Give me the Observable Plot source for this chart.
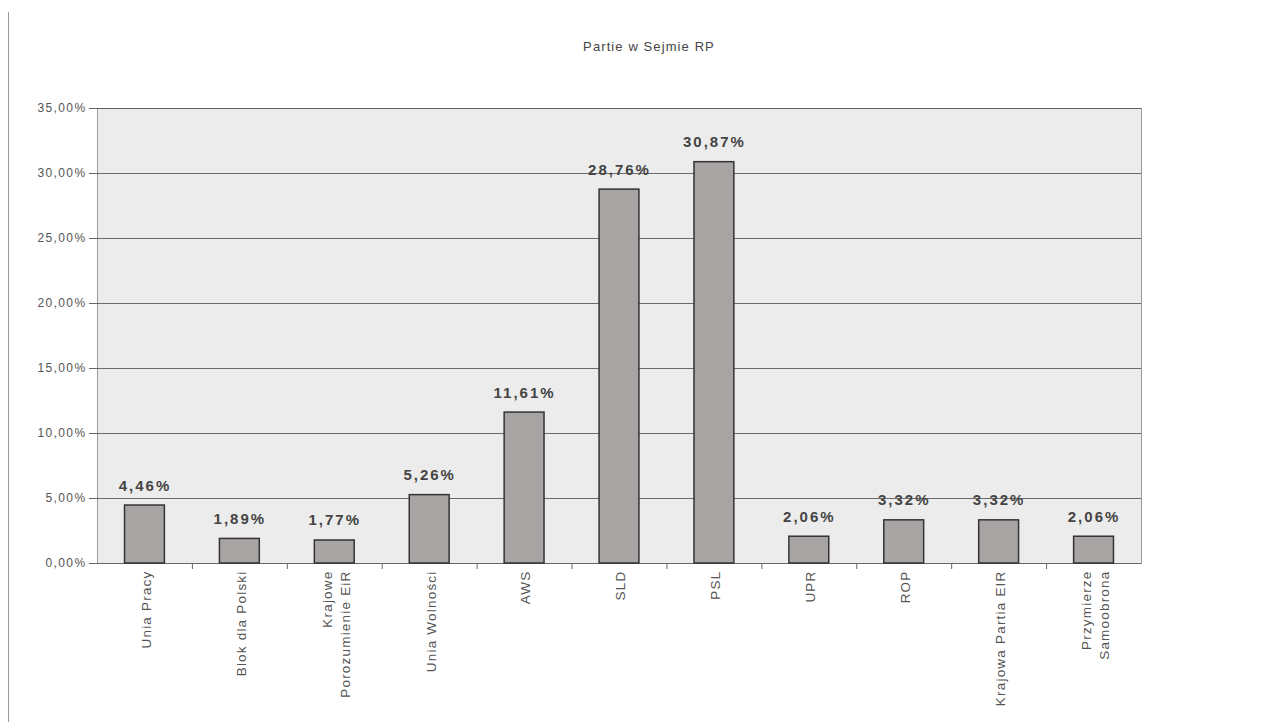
<!DOCTYPE html>
<html>
<head>
<meta charset="utf-8">
<script src="https://cdn.jsdelivr.net/npm/d3@7"></script>
<script src="https://cdn.jsdelivr.net/npm/@observablehq/plot@0.6"></script>
<style>
  html, body { margin: 0; padding: 0; background: #fff; }
  body { width: 1274px; height: 722px; position: relative; overflow: hidden; font-family: "Liberation Sans", Arial, sans-serif; }
  #border { position: absolute; left: 8px; top: 12px; bottom: 0; border-left: 1px solid #9a9a9a; }
  #title { height: 90px; box-sizing: border-box; padding-top: 39px; text-align: center; font-size: 13px; letter-spacing: 1.1px; color: #444; padding-left: 24px; }
  #chart svg { display: block; }
  #chart g[aria-label="y-axis tick label"] text { letter-spacing: 1.4px; }
  #chart g[aria-description="value-label"] text { letter-spacing: 2px; }
  #chart g[aria-description="category-label"] text { letter-spacing: 1.2px; }
</style>
</head>
<body>
<div id="border"></div>
<div id="title">Partie w Sejmie RP</div>
<div id="chart"></div>
<script>
const parties = ["Unia Pracy", "Blok dla Polski", "Krajowe Porozumienie EiR", "Unia Wolności", "AWS", "SLD", "PSL", "UPR", "ROP", "Krajowa Partia EIR", "Przymierze Samoobrona"];
const tickLabels = ["Unia Pracy", "Blok dla Polski", "Krajowe\nPorozumienie EiR", "Unia Wolności", "AWS", "SLD", "PSL", "UPR", "ROP", "Krajowa Partia EIR", "Przymierze\nSamoobrona"];
const shares = [4.46, 1.89, 1.77, 5.26, 11.61, 28.76, 30.87, 2.06, 3.32, 3.32, 2.06];
const yTicks = [0, 5, 10, 15, 20, 25, 30, 35];

const pct = v => v.toFixed(2).replace(".", ",") + "%";
const data = parties.map((p, i) => ({party: p, label: tickLabels[i], value: shares[i]}));

const W = 1274, H = 632, mL = 97, mR = 133, mT = 18, mB = 159;
const step = (W - mL - mR) / parties.length;

const chart = Plot.plot({
  width: W, height: H,
  marginLeft: mL, marginRight: mR, marginTop: mT, marginBottom: mB,
  style: {fontFamily: "'Liberation Sans', Arial, sans-serif", background: "transparent", overflow: "visible"},
  x: {domain: parties, paddingInner: 0.58, paddingOuter: 0.29, round: false, axis: null},
  y: {domain: [0, 35], axis: null},
  marks: [
    Plot.frame({fill: "#ececec", stroke: "#9a9a9a"}),
    Plot.gridY(yTicks, {stroke: "#555", strokeOpacity: 0.85, strokeWidth: 1}),
    Plot.axisY(yTicks, {label: null, tickFormat: pct, tickSize: 8, tickPadding: 3, fontSize: 12, color: "#555", stroke: "#666"}),
    Plot.ruleY([0], {stroke: "#666"}),
    Plot.ruleX([0], {stroke: "#777"}),
    Plot.barY(data, {x: "party", y: "value", fill: "#a9a4a4", stroke: "#333", strokeWidth: 1.5}),
    Plot.ruleX(parties.slice(0, -1), {x: d => d, y1: 0, y2: 0, dx: step / 2, insetBottom: -6, stroke: "#666"}),
    Plot.text(data, {ariaDescription: "value-label", x: "party", y: "value", text: d => pct(d.value), dy: -15, lineAnchor: "bottom", fontSize: 15, fontWeight: "bold", fill: "#444"}),
    Plot.text(data, {ariaDescription: "category-label", x: "party", y: 0, text: "label", rotate: -90, textAnchor: "end", lineAnchor: "middle", dy: 7, fontSize: 13.5, fill: "#555", lineHeight: 1.35})
  ]
});
document.getElementById("chart").appendChild(chart);
</script>
</body>
</html>
